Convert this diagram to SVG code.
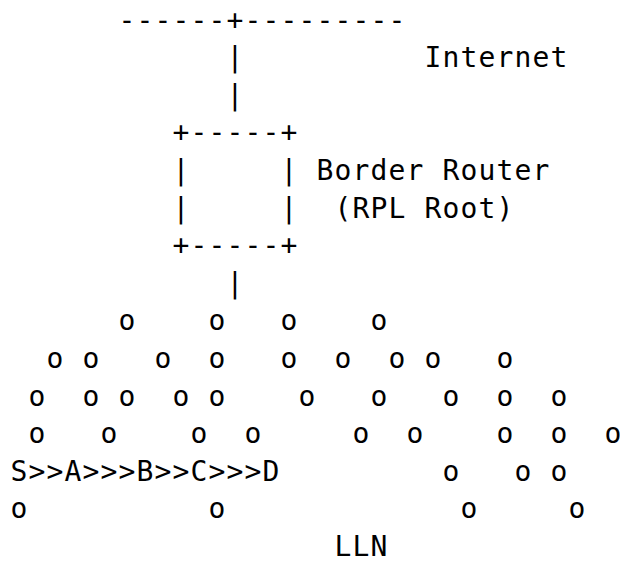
<svg xmlns="http://www.w3.org/2000/svg" width="620" height="562" viewBox="0 0 620 562">
<style>
text{font-family:"DejaVu Sans Mono","Liberation Mono",monospace;font-size:28px;letter-spacing:1.14px;fill:#000;white-space:pre}
</style>
<rect width="620" height="562" fill="#fff"/>
<g id="internet">
<text x="118.6" y="29.5" xml:space="preserve">------+---------</text>
<text x="424.6" y="67.1">Internet</text>
</g>
<g id="connectors">
<text x="226.6" y="67.1">|</text>
<text x="226.6" y="104.7">|</text>
<text x="226.6" y="292.7">|</text>
</g>
<g id="border-router">
<text x="172.6" y="142.3">+-----+</text>
<text x="172.6" y="179.9" xml:space="preserve">|     | Border Router</text>
<text x="172.6" y="217.5" xml:space="preserve">|     |  (RPL Root)</text>
<text x="172.6" y="255.1">+-----+</text>
</g>
<g id="lln">
<text x="118.6" y="330.3" xml:space="preserve">o    o   o    o</text>
<text x="46.6" y="367.9" xml:space="preserve">o o   o  o   o  o  o o   o</text>
<text x="28.6" y="405.5" xml:space="preserve">o  o o  o o    o   o   o  o  o</text>
<text x="28.6" y="443.1" xml:space="preserve">o   o    o  o     o  o    o  o  o</text>
<text x="442.6" y="480.7" xml:space="preserve">o   o o</text>
<text x="10.6" y="518.3" xml:space="preserve">o          o             o     o</text>
<text x="334.6" y="555.9">LLN</text>
</g>
<g id="path">
<text x="10.6" y="480.7">S&gt;&gt;A&gt;&gt;&gt;B&gt;&gt;C&gt;&gt;&gt;D</text>
</g>
</svg>
